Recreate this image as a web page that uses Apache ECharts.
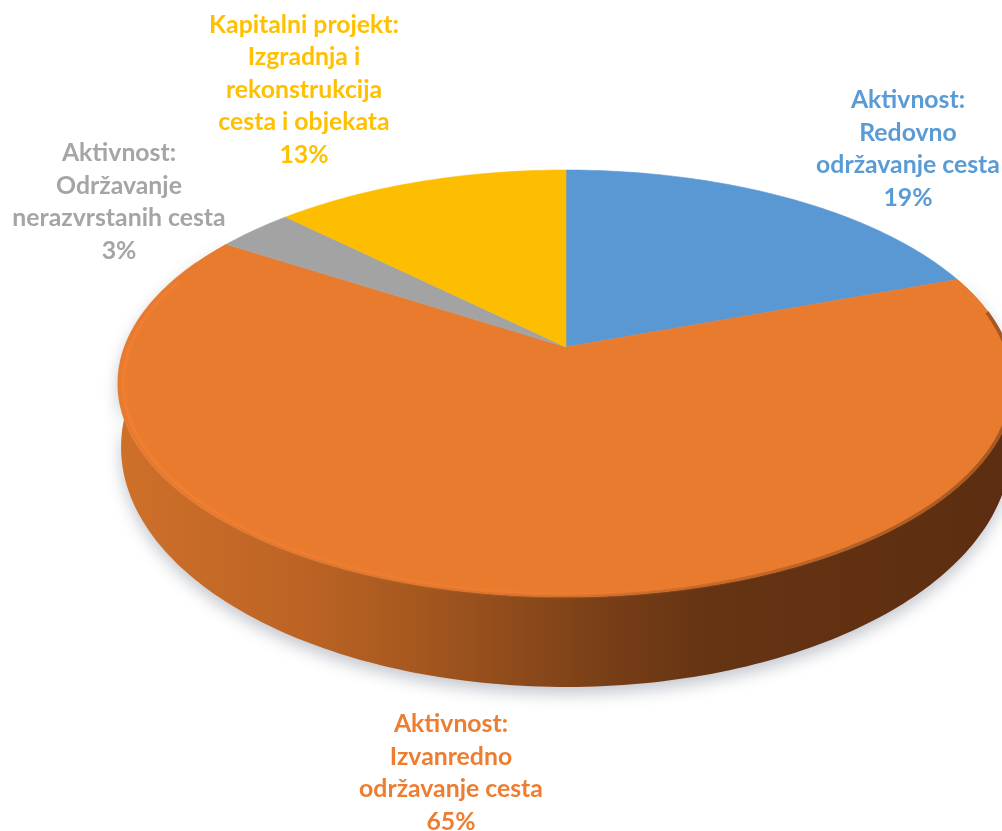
<!DOCTYPE html>
<html><head><meta charset="utf-8">
<style>html,body{margin:0;padding:0;background:#fff}#c{width:1002px;height:831px}</style>
<script src="https://cdn.jsdelivr.net/npm/echarts@6/dist/echarts.min.js"></script>
</head><body><div id="c"></div>
<script>
const categories = ['Aktivnost:\nRedovno\nodržavanje cesta','Aktivnost:\nIzvanredno\nodržavanje cesta','Aktivnost:\nOdržavanje\nnerazvrstanih cesta','Kapitalni projekt:\nIzgradnja i\nrekonstrukcija\ncesta i objekata'];
const shares = [19.4,64.7,3.3,12.6];
const faceColors = ['#5A98D4','#E97B2F','#A3A3A3','#FDBE02'];
const labelColors = ['#5B9BD5','#ED7D31','#A5A5A5','#FFC000'];
const labelX = [908,451,119,304];
const labelY = [149,773,202,90];

const total = shares.reduce((a,b)=>a+b,0);
const tilt = 0.171;
const topPlane = {cx:566,d:441.4,a:-147.9,b:347};
const basePlane = {cx:566,d:438.4,a:-163.5,b:406};
const hub = [566,347];
function project(pl,deg,k){
  const r=deg*Math.PI/180,u=Math.sin(r),v=Math.cos(r),w=1+tilt*v;
  const x=pl.cx+pl.d*u/w,y=(pl.a*v+pl.b)/w;
  if(!k)return [x,y];
  return [566+(x-566)*k,383.5+(y-383.5)*k];
}
function arc(pl,s,e,k){const n=Math.max(4,Math.ceil(Math.abs(e-s)));const p=[];for(let i=0;i<=n;i++)p.push(project(pl,s+(e-s)*i/n,k));return p;}
const wallFill={type:'linear',x:118,y:0,x2:1014,y2:0,global:true,colorStops:[
 {offset:0,color:'#CE7029'},{offset:0.2,color:'#BD6425'},{offset:0.32,color:'#A8591F'},{offset:0.44,color:'#8F4B1B'},
 {offset:0.55,color:'#773E17'},{offset:0.66,color:'#653413'},{offset:1,color:'#5C2D10'}]};
const edgeStroke={type:'linear',x:118,y:0,x2:1014,y2:0,global:true,colorStops:[
 {offset:0,color:'rgba(228,122,46,0.35)'},{offset:0.35,color:'rgba(200,105,40,0.35)'},{offset:0.6,color:'rgba(150,78,28,0.4)'},{offset:1,color:'rgba(110,58,20,0.55)'}]};
const glowStroke={type:'linear',x:118,y:0,x2:1014,y2:0,global:true,colorStops:[
 {offset:0,color:'rgba(246,130,50,0.55)'},{offset:0.5,color:'rgba(246,128,48,0.5)'},{offset:0.72,color:'rgba(240,125,48,0.15)'},{offset:0.85,color:'rgba(240,125,48,0)'},{offset:1,color:'rgba(240,125,48,0)'}]};

function renderItem(params,api){
  const i=params.dataIndex;
  let before=0;for(let k=0;k<i;k++)before+=shares[k];
  const s=before/total*360,e=(before+api.value(0))/total*360;
  const children=[];
  const big=e-s>90;
  if(big){
    children.push({type:'polygon',z2:1,shape:{points:arc(topPlane,s,e).concat(arc(basePlane,e,s))},
      style:{fill:wallFill,shadowColor:'rgba(70,80,100,0.32)',shadowBlur:16,shadowOffsetY:7}});
  }
  children.push({type:'polygon',z2:3,shape:{points:[hub].concat(arc(topPlane,s,e))},
    style:{fill:faceColors[i],stroke:faceColors[i],lineWidth:0.6}});
  if(big){
    children.push({type:'polyline',z2:4,shape:{points:arc(topPlane,80,296,0.997)},
      style:{fill:null,stroke:edgeStroke,lineWidth:4}});
    children.push({type:'polyline',z2:5,shape:{points:arc(topPlane,105,290,0.988)},
      style:{fill:null,stroke:glowStroke,lineWidth:2.5,shadowColor:'rgba(248,132,50,0.35)',shadowBlur:6}});
  }
  children.push({type:'text',z2:6,x:labelX[i],y:labelY[i],
    style:{text:categories[i]+'\n'+Math.round(api.value(0))+'%',fill:labelColors[i],align:'center',verticalAlign:'middle',
      font:'bold 24.8px Lato',lineHeight:32.5}});
  return {type:'group',children};
}
const chart=echarts.init(document.getElementById('c'),null,{renderer:'canvas'});
chart.setOption({animation:false,backgroundColor:'#fff',series:[{
  type:'custom',coordinateSystem:'none',renderItem,clip:false,
  data:shares.map(v=>[v]),encode:{value:0}}]});
</script></body></html>
